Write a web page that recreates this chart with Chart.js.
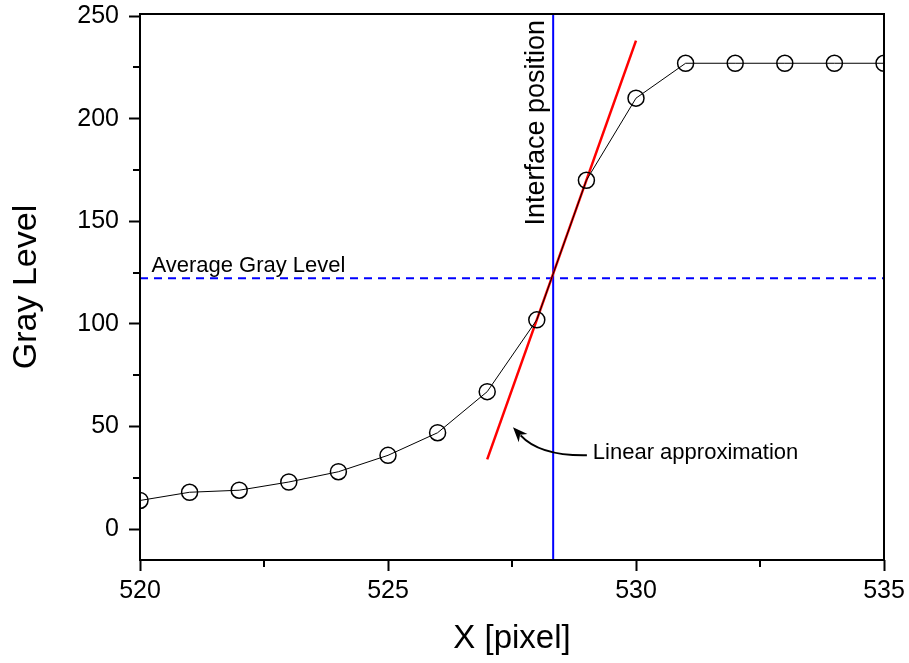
<!DOCTYPE html>
<html>
<head>
<meta charset="utf-8">
<script src="https://cdn.jsdelivr.net/npm/chart.js@4.4.1/dist/chart.umd.min.js"></script>
<style>
html,body{margin:0;padding:0;background:#fff;}
canvas{display:block;}
</style>
</head>
<body>
<canvas id="c" width="909" height="663"></canvas>
<script>
// ---- data ----
const pixelX = [520,521,522,523,524,525,526,527,528,529,530,531,532,533,534,535];
const grayLevel = [14,18,19,23,28,36,47,67,102,170,210,227,227,227,227,227];
const linearFitX = [527.0, 530.0];
const linearFitY = [34, 238];
const interfaceX = 528.33;
const averageGray = 122.3;
const xRange = [520, 535];
const yRange = [-15, 251];
const xTickValues = [520, 525, 530, 535];
const xMinorTicks = [522.5, 527.5, 532.5];
const yTickValues = [0, 50, 100, 150, 200, 250];
const yMinorTicks = [25, 75, 125, 175, 225];
const arrowPath = [[529.01, 36.0], [528.06, 35.6], [527.52, 49.7]];
const labels = {
  avg: {text: 'Average Gray Level', x: 520.23, y: 125.2},
  iface: {text: 'Interface position', x: 528.15, y: 198},
  lin: {text: 'Linear approximation', x: 529.13, y: 34.1}
};

const FONT = '"Liberation Sans", Arial, sans-serif';

const framePlugin = {
  id: 'frame',
  afterDatasetsDraw(chart) {
    const {ctx, chartArea: a, scales: {x, y}} = chart;
    ctx.save();
    ctx.strokeStyle = '#000';
    ctx.lineWidth = 2;
    ctx.strokeRect(a.left, a.top, a.right - a.left, a.bottom - a.top);
    ctx.beginPath();
    xMinorTicks.forEach(v => {
      const px = Math.round(x.getPixelForValue(v));
      ctx.moveTo(px, a.bottom); ctx.lineTo(px, a.bottom + 7);
    });
    yMinorTicks.forEach(v => {
      const py = Math.round(y.getPixelForValue(v));
      ctx.moveTo(a.left, py); ctx.lineTo(a.left - 7, py);
    });
    ctx.stroke();

    ctx.fillStyle = '#000';
    ctx.textBaseline = 'alphabetic';
    ctx.textAlign = 'left';
    ctx.font = '22px ' + FONT;
    ctx.fillText(labels.avg.text, x.getPixelForValue(labels.avg.x), y.getPixelForValue(labels.avg.y));
    ctx.fillText(labels.lin.text, x.getPixelForValue(labels.lin.x), y.getPixelForValue(labels.lin.y));

    ctx.save();
    ctx.translate(x.getPixelForValue(labels.iface.x), y.getPixelForValue(labels.iface.y));
    ctx.rotate(-Math.PI / 2);
    ctx.textAlign = 'center';
    ctx.font = '27px ' + FONT;
    ctx.fillText(labels.iface.text, 0, 0);
    ctx.restore();

    const p = arrowPath.map(([vx, vy]) => [x.getPixelForValue(vx), y.getPixelForValue(vy)]);
    ctx.beginPath();
    ctx.lineWidth = 2;
    ctx.moveTo(p[0][0], p[0][1]);
    const ang = Math.atan2(p[2][1] - p[1][1], p[2][0] - p[1][0]);
    const headLen = 16;
    const endX = p[2][0] - Math.cos(ang) * headLen * 0.7;
    const endY = p[2][1] - Math.sin(ang) * headLen * 0.7;
    ctx.quadraticCurveTo(p[1][0], p[1][1], endX, endY);
    ctx.stroke();
    ctx.beginPath();
    ctx.moveTo(p[2][0], p[2][1]);
    ctx.lineTo(p[2][0] - headLen * Math.cos(ang - 0.38), p[2][1] - headLen * Math.sin(ang - 0.38));
    ctx.lineTo(p[2][0] - headLen * 0.65 * Math.cos(ang), p[2][1] - headLen * 0.65 * Math.sin(ang));
    ctx.lineTo(p[2][0] - headLen * Math.cos(ang + 0.38), p[2][1] - headLen * Math.sin(ang + 0.38));
    ctx.closePath();
    ctx.fill();
    ctx.restore();
  }
};

new Chart(document.getElementById('c'), {
  type: 'scatter',
  data: {
    datasets: [
      {
        label: 'Gray level',
        data: pixelX.map((v, i) => ({x: v, y: grayLevel[i]})),
        showLine: true,
        borderColor: '#000',
        borderWidth: 1,
        pointStyle: 'circle',
        pointRadius: 8,
        pointBorderWidth: 1.5,
        pointBorderColor: '#000',
        pointBackgroundColor: 'rgba(0,0,0,0)',
        clip: 0
      },
      {
        label: 'Linear approximation',
        data: linearFitX.map((v, i) => ({x: v, y: linearFitY[i]})),
        showLine: true,
        borderColor: '#ff0000',
        borderWidth: 2.5,
        pointRadius: 0,
        clip: 0
      },
      {
        label: 'Interface position',
        data: [{x: interfaceX, y: yRange[0]}, {x: interfaceX, y: yRange[1]}],
        showLine: true,
        borderColor: '#0000ff',
        borderWidth: 2,
        pointRadius: 0,
        clip: 0
      },
      {
        label: 'Average Gray Level',
        data: [{x: xRange[0], y: averageGray}, {x: xRange[1], y: averageGray}],
        showLine: true,
        borderColor: '#0000ff',
        borderWidth: 2,
        borderDash: [8, 6],
        pointRadius: 0,
        clip: 0
      }
    ]
  },
  options: {
    responsive: false,
    animation: false,
    layout: {padding: {top: 14, right: 25, bottom: 0, left: 0}},
    plugins: {legend: {display: false}, tooltip: {enabled: false}},
    elements: {line: {tension: 0}},
    scales: {
      x: {
        type: 'linear',
        min: xRange[0], max: xRange[1],
        afterBuildTicks(s) { s.ticks = xTickValues.map(v => ({value: v})); },
        afterFit(s) { s.height = 103; s.paddingLeft = 0; s.paddingRight = 0; },
        border: {display: false},
        grid: {display: true, drawOnChartArea: false, drawTicks: true, tickLength: 11, tickWidth: 2, tickColor: '#000'},
        ticks: {color: '#000', font: {family: FONT, size: 25}, padding: 5, maxRotation: 0, autoSkip: false},
        title: {display: true, text: 'X [pixel]', color: '#000', font: {family: FONT, size: 33}, padding: {top: 0, bottom: 4}}
      },
      y: {
        type: 'linear',
        min: yRange[0], max: yRange[1],
        afterBuildTicks(s) { s.ticks = yTickValues.map(v => ({value: v})); },
        afterFit(s) { s.width = 140; s.paddingTop = 0; s.paddingBottom = 0; },
        border: {display: false},
        grid: {display: true, drawOnChartArea: false, drawTicks: true, tickLength: 11, tickWidth: 2, tickColor: '#000'},
        ticks: {color: '#000', font: {family: FONT, size: 25}, padding: 10, autoSkip: false},
        title: {display: true, text: 'Gray Level', color: '#000', font: {family: FONT, size: 34}, padding: {top: 6, bottom: 0}}
      }
    }
  },
  plugins: [framePlugin]
});
</script>
</body>
</html>
